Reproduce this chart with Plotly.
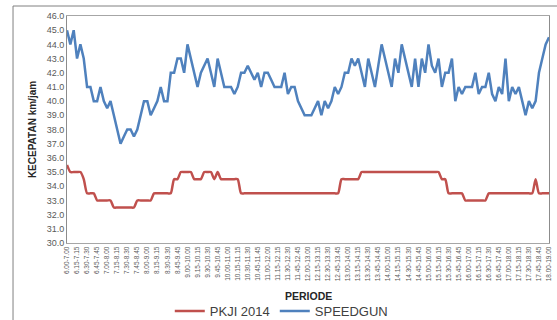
import plotly.graph_objects as go

# Categories: 5-minute moving 1-hour periods from 6.00-7.00 to 18.00-19.00
def _fmt(m):
    return f"{m // 60}.{m % 60:02d}"

periods = [f"{_fmt(m)}-{_fmt(m + 60)}" for m in range(6 * 60, 18 * 60 + 1, 5)]
tick_labels = periods[::3]

pkji_2014 = [
    35.5, 35.0, 35.0, 35.0, 35.0, 34.5, 33.5, 33.5, 33.5, 33.0,
    33.0, 33.0, 33.0, 33.0, 32.5, 32.5, 32.5, 32.5, 32.5, 32.5,
    32.5, 33.0, 33.0, 33.0, 33.0, 33.0, 33.5, 33.5, 33.5, 33.5,
    33.5, 33.5, 34.5, 34.5, 35.0, 35.0, 35.0, 35.0, 34.5, 34.5,
    34.5, 35.0, 35.0, 35.0, 34.5, 35.0, 34.5, 34.5, 34.5, 34.5,
    34.5, 34.5, 33.5, 33.5, 33.5, 33.5, 33.5, 33.5, 33.5, 33.5,
    33.5, 33.5, 33.5, 33.5, 33.5, 33.5, 33.5, 33.5, 33.5, 33.5,
    33.5, 33.5, 33.5, 33.5, 33.5, 33.5, 33.5, 33.5, 33.5, 33.5,
    33.5, 33.5, 34.5, 34.5, 34.5, 34.5, 34.5, 34.5, 35.0, 35.0,
    35.0, 35.0, 35.0, 35.0, 35.0, 35.0, 35.0, 35.0, 35.0, 35.0,
    35.0, 35.0, 35.0, 35.0, 35.0, 35.0, 35.0, 35.0, 35.0, 35.0,
    35.0, 35.0, 34.5, 34.5, 33.5, 33.5, 33.5, 33.5, 33.5, 33.0,
    33.0, 33.0, 33.0, 33.0, 33.0, 33.0, 33.5, 33.5, 33.5, 33.5,
    33.5, 33.5, 33.5, 33.5, 33.5, 33.5, 33.5, 33.5, 33.5, 33.5,
    34.5, 33.5, 33.5, 33.5, 33.5,
]

speedgun = [
    45, 44, 45, 43, 44, 43, 41, 41, 40, 40,
    41, 40, 39.5, 40, 39, 38, 37, 37.5, 38, 38,
    37.5, 38, 39, 40, 40, 39, 39.5, 40, 41, 40,
    40, 42, 42, 43, 43, 42, 44, 43, 42, 41,
    42, 42.5, 43, 42, 41, 43, 42, 41, 41, 41,
    40.5, 41, 42, 42, 42.5, 42, 41.5, 42, 41, 42,
    42, 41.5, 41, 41, 41, 42, 40.5, 41, 41, 40,
    39.5, 39, 39, 39, 39.5, 40, 39, 40, 39.5, 40,
    41, 40.5, 41, 42, 42, 43, 42.5, 43, 42, 41,
    43, 42, 41, 42.5, 44, 43, 42, 41, 43, 42,
    44, 43, 42, 41, 43, 41, 43, 42, 44, 42.5,
    42, 43, 41, 42, 42, 43, 40, 41, 40.5, 41,
    41, 41, 42, 40.5, 41, 41, 42, 40.5, 40, 41,
    40.5, 43, 40, 41, 40.5, 41, 40, 39, 40, 39.5,
    40, 42, 43, 44, 44.5,
]

x_title = "PERIODE"
y_title = "KECEPATAN km/jam"
y_min, y_max, y_step = 30, 46, 1

FONT = "Liberation Sans, Arial, sans-serif"
RED = "#C0504D"
BLUE = "#4F81BD"

fig = go.Figure()
fig.add_trace(go.Scatter(
    x=periods, y=pkji_2014, mode="lines", name="PKJI 2014",
    line=dict(color=RED, width=2.5, shape="spline", smoothing=0.6),
))
fig.add_trace(go.Scatter(
    x=periods, y=speedgun, mode="lines", name="SPEEDGUN",
    line=dict(color=BLUE, width=2.5),
))

fig.update_layout(
    width=557, height=320,
    margin=dict(l=67, r=8, t=16, b=77),
    paper_bgcolor="white", plot_bgcolor="white",
    font=dict(family=FONT, color="#595959"),
    showlegend=True,
    legend=dict(
        orientation="h", xref="container", yref="container",
        x=0.505, xanchor="center", y=0.028, yanchor="middle",
        font=dict(family=FONT, size=13, color="#404040"),
        itemwidth=30, tracegroupgap=0, bgcolor="rgba(0,0,0,0)",
    ),
    shapes=[dict(
        type="path", xref="paper", yref="paper",
        path="M -0.112 -0.4 L -0.112 1.044 L 1.05 1.044",
        line=dict(color="#808080", width=1),
    )],
    annotations=[dict(
        text=f"<b>{x_title}</b>", xref="paper", yref="paper",
        x=0.5, y=-0.235, xanchor="center", yanchor="middle", showarrow=False,
        font=dict(family=FONT, size=10.5, color="#262626"),
    )],
)

fig.update_xaxes(
    type="category",
    categoryorder="array", categoryarray=periods,
    range=[0, len(periods) - 1],
    tickmode="array", tickvals=tick_labels, ticktext=tick_labels,
    tickangle=-90, tickfont=dict(family=FONT, size=6.5, color="#595959"),
    showgrid=False, zeroline=False,
    showline=True, linecolor="#a6a6a6", linewidth=1, mirror=True,
    ticks="",
    automargin=False,
)
fig.update_yaxes(
    range=[y_min, y_max], dtick=y_step, tick0=y_min, tickformat=".1f",
    tickfont=dict(family=FONT, size=9, color="#595959"),
    showgrid=False, zeroline=False,
    showline=True, linecolor="#8c8c8c", linewidth=1, mirror=True,
    ticks="",
    title=dict(text=f"<b>{y_title}</b>", font=dict(family=FONT, size=10, color="#262626"), standoff=8),
    automargin=False,
)

fig.write_html(
    "out.html",
    config={"displayModeBar": False},
    post_script="document.body.style.margin='0';document.body.style.overflow='hidden';",
)
